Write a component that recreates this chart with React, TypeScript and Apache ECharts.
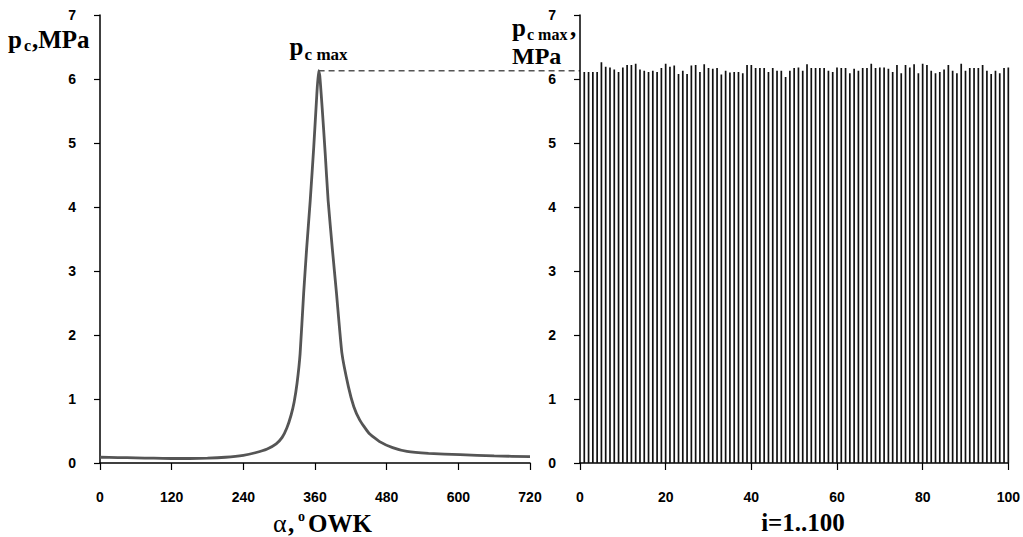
import React, { useEffect, useRef } from "react";
import * as echarts from "echarts";

// Left panel: cylinder pressure vs crank angle
const crankAngles = [0, 30, 60, 90, 120, 150, 180, 210, 240, 260, 280, 295, 305, 313, 320, 325, 330, 335, 341, 346, 352, 358, 363, 366, 368, 372, 377, 382, 389, 396, 405, 416, 425, 435, 450, 469, 490, 514, 550, 603, 660, 720];
const pressure = [0.09, 0.085, 0.08, 0.075, 0.07, 0.07, 0.075, 0.09, 0.12, 0.16, 0.22, 0.3, 0.4, 0.55, 0.75, 0.95, 1.25, 1.7, 2.65, 3.35, 4.1, 4.95, 5.75, 6.13, 6.05, 5.55, 4.85, 4.1, 3.35, 2.65, 1.72, 1.19, 0.88, 0.67, 0.47, 0.33, 0.24, 0.18, 0.15, 0.13, 0.11, 0.1];

// Right panel: peak pressure for cycles i = 1..100
const pMaxValues = [
  6.11, 6.11, 6.11, 6.11, 6.26, 6.19, 6.18, 6.15, 6.11, 6.18,
  6.22, 6.22, 6.24, 6.15, 6.13, 6.11, 6.13, 6.11, 6.17, 6.24,
  6.19, 6.21, 6.08, 6.13, 6.08, 6.21, 6.22, 6.11, 6.23, 6.17,
  6.16, 6.17, 6.07, 6.13, 6.10, 6.11, 6.11, 6.09, 6.22, 6.22,
  6.17, 6.17, 6.17, 6.11, 6.17, 6.13, 6.13, 6.03, 6.13, 6.17,
  6.18, 6.13, 6.23, 6.17, 6.17, 6.17, 6.17, 6.13, 6.11, 6.18,
  6.17, 6.17, 6.09, 6.16, 6.13, 6.17, 6.17, 6.24, 6.17, 6.18,
  6.18, 6.16, 6.11, 6.22, 6.09, 6.22, 6.18, 6.23, 6.09, 6.24,
  6.22, 6.13, 6.09, 6.11, 6.15, 6.22, 6.13, 6.09, 6.24, 6.13,
  6.17, 6.17, 6.17, 6.22, 6.13, 6.08, 6.13, 6.09, 6.17, 6.18,
];

const yTicks = { min: 0, max: 7, interval: 1 };
const leftXTicks = { min: 0, max: 720, interval: 120 };
const rightXTicks = { min: 0, max: 100, interval: 20 };

const SANS = "'Liberation Sans', Arial, sans-serif";
const SERIF = "'Liberation Serif', 'Times New Roman', serif";

function axisCommon() {
  return {
    axisLine: { show: true, lineStyle: { color: "#000", width: 1.5 } },
    axisTick: { show: true, length: 6, lineStyle: { color: "#000", width: 1.2 } },
    splitLine: { show: false },
  };
}

export default function App() {
  const ref = useRef<HTMLDivElement>(null);

  useEffect(() => {
    if (!ref.current) return;
    const chart = echarts.init(ref.current, null, { renderer: "svg" });

    const curveData = crankAngles.map((a, i) => [a, pressure[i]]);
    const barData = pMaxValues.map((v, i) => [i + 1, v]);

    const labelStyle = { color: "#000", fontFamily: SANS, fontWeight: "bold", fontSize: 14 };

    chart.setOption({
      animation: false,
      backgroundColor: "#fff",
      grid: [
        { left: 100, top: 15, width: 430, height: 448 },
        { left: 580, top: 15, width: 430, height: 448 },
      ],
      xAxis: [
        {
          type: "value", gridIndex: 0, ...leftXTicks, ...axisCommon(),
          axisTick: { show: true, length: 7, lineStyle: { color: "#000", width: 1.2 } },
          axisLabel: { ...labelStyle, margin: 27 },
        },
        {
          type: "value", gridIndex: 1, ...rightXTicks, ...axisCommon(),
          axisTick: { show: true, length: 7, lineStyle: { color: "#000", width: 1.2 } },
          axisLabel: { ...labelStyle, margin: 27 },
        },
      ],
      yAxis: [
        { type: "value", gridIndex: 0, ...yTicks, ...axisCommon(), axisLabel: { ...labelStyle, margin: 24 } },
        { type: "value", gridIndex: 1, ...yTicks, ...axisCommon(), axisLabel: { ...labelStyle, margin: 24 } },
      ],
      series: [
        {
          type: "line", xAxisIndex: 0, yAxisIndex: 0, data: curveData,
          showSymbol: false, smooth: 0.15,
          lineStyle: { color: "#555", width: 2.8 },
        },
        {
          type: "bar", xAxisIndex: 1, yAxisIndex: 1, data: barData,
          barWidth: 1.7, itemStyle: { color: "#111" },
        },
      ],
    });

    // peak position derived from data
    let peakIdx = 0;
    pressure.forEach((v, i) => { if (v > pressure[peakIdx]) peakIdx = i; });
    const peak = chart.convertToPixel({ gridIndex: 0 }, [crankAngles[peakIdx], pressure[peakIdx]]) as number[];
    const rightAxisX = (chart.convertToPixel({ xAxisIndex: 1 }, 0) as number);

    const bold = (size: number) => ({ fontFamily: SERIF, fontWeight: "bold", fontSize: size, fill: "#000" });

    chart.setOption({
      graphic: [
        // dashed line from peak to right axis
        {
          type: "line",
          shape: { x1: peak[0], y1: peak[1], x2: rightAxisX, y2: peak[1] },
          style: { stroke: "#555", lineWidth: 1.5, lineDash: [6, 4] },
        },
        // peak label
        { type: "text", x: peak[0] - 29, y: peak[1] - 24, style: { ...bold(25), text: "p", verticalAlign: "middle" } },
        { type: "text", x: peak[0] - 14, y: peak[1] - 16, style: { ...bold(17), text: "c max", verticalAlign: "middle" } },
        // left y name
        { type: "text", x: 8, y: 39, style: { ...bold(25), text: "p", verticalAlign: "middle" } },
        { type: "text", x: 24, y: 45, style: { ...bold(16), text: "c", verticalAlign: "middle" } },
        { type: "text", x: 32, y: 39, style: { ...bold(25), text: ",MPa", verticalAlign: "middle" } },
        // right y name
        { type: "text", x: 512, y: 27, style: { ...bold(25), text: "p", verticalAlign: "middle" } },
        { type: "text", x: 527, y: 34, style: { ...bold(16), text: "c max", verticalAlign: "middle" } },
        { type: "text", x: 570, y: 27, style: { ...bold(25), text: ",", verticalAlign: "middle" } },
        { type: "text", x: 512, y: 56, style: { ...bold(24), text: "MPa", verticalAlign: "middle" } },
        // left x name
        { type: "text", x: 273, y: 523, style: { fontFamily: SERIF, fontSize: 26, fill: "#000", text: "α", verticalAlign: "middle" } },
        { type: "text", x: 288, y: 523, style: { ...bold(25), text: ",", verticalAlign: "middle" } },
        { type: "text", x: 298, y: 516, style: { ...bold(14), text: "o", verticalAlign: "middle" } },
        { type: "text", x: 308, y: 523, style: { ...bold(25), text: "OWK", verticalAlign: "middle" } },
        // right x name
        { type: "text", x: 803, y: 522, style: { ...bold(25), text: "i=1..100", align: "center", verticalAlign: "middle" } },
      ],
    });

    return () => chart.dispose();
  }, []);

  return (
    <div
      ref={ref}
      style={{ position: "fixed", left: 0, top: 0, width: 1023, height: 537, background: "#fff" }}
    />
  );
}
